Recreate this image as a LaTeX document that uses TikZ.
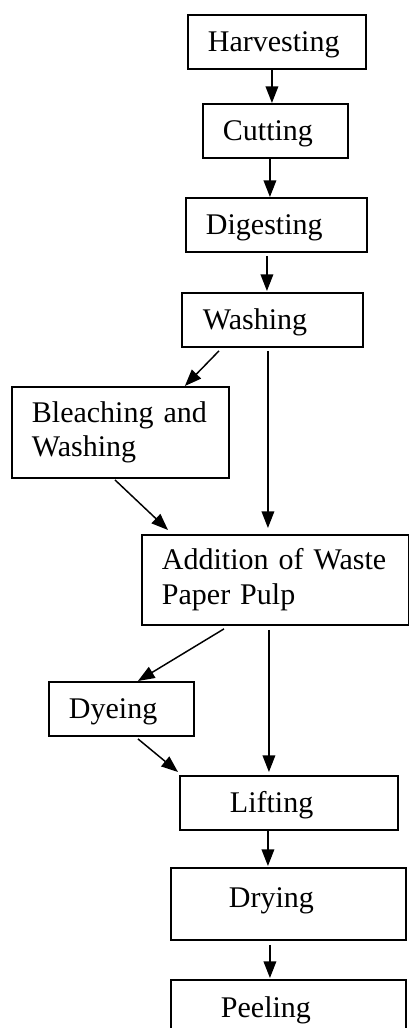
\documentclass[tikz,border=0pt]{standalone}
\usepackage{fontspec}
\setmainfont{Liberation Serif}
\usepackage{tikz}
\usetikzlibrary{arrows.meta, positioning, calc}

\newdimen\pxu
\pxu=0.75pt
\newcommand{\stagefont}{\fontsize{22.5}{26}\selectfont}

\tikzset{
  stage/.style={draw, line width=1.4pt, rectangle, anchor=north west, align=left,
    font=\stagefont, inner ysep=0pt},
  oneline/.style={text height=15pt, text depth=0pt},
  flow/.style={-{Triangle[length=12.5pt,width=9.5pt]}, line width=1.1pt}
}

\begin{document}
\begin{tikzpicture}[x=0.75pt, y=-0.75pt]
\useasboundingbox (0,0) rectangle (409,1028);

% Main chain (top)
\node[stage, oneline, minimum width=178\pxu, minimum height=54\pxu, inner xsep=20\pxu, text width=138\pxu] (harv) at (187,14) {Harvesting};
\node[stage, oneline, minimum width=145\pxu, minimum height=54\pxu, inner xsep=20\pxu, text width=105\pxu] (cut) at (202,103) {Cutting};
\node[stage, oneline, minimum width=181\pxu, minimum height=54\pxu, inner xsep=20\pxu, text width=141\pxu] (dig) at (185,197) {Digesting};
\node[stage, oneline, minimum width=181\pxu, minimum height=54\pxu, inner xsep=21\pxu, text width=139\pxu] (wash) at (181,292) {Washing};

% Side branch 1
\node[stage, minimum width=217\pxu, minimum height=91\pxu, inner xsep=20\pxu, text width=177\pxu] (bleach) at (11,386) {Bleaching and\\Washing};
\node[stage, minimum width=267\pxu, minimum height=90\pxu, inner xsep=20\pxu, text width=227\pxu] (addn) at (141,534) {Addition of Waste\\Paper Pulp};

% Side branch 2
\node[stage, oneline, minimum width=145\pxu, minimum height=54\pxu, inner xsep=20\pxu, text width=105\pxu] (dye) at (48,681) {Dyeing};
\node[stage, oneline, minimum width=218\pxu, minimum height=54\pxu, inner xsep=50\pxu, text width=118\pxu] (lift) at (179,775) {Lifting};

% Main chain (bottom)
\node[stage, text height=15pt, text depth=10pt, minimum width=235\pxu, minimum height=72\pxu, inner xsep=58\pxu, text width=119\pxu] (dry) at (170,867) {Drying};
\node[stage, text height=15pt, text depth=12pt, minimum width=235\pxu, minimum height=72\pxu, inner xsep=50\pxu, text width=135\pxu] (peel) at (170,979) {Peeling};

% Arrows
\draw[flow] ($(harv.south)+(-5,0)$) -- ($(cut.north)+(-3.5,0)$);
\draw[flow] ($(cut.south)+(-5.5,0)$) -- ($(dig.north)+(-6.5,0)$);
\draw[flow] ($(dig.south)+(-9.5,3)$) -- ($(wash.north)+(-5.5,-1)$);
\draw[flow] ($(wash.south west)+(38,3)$) -- ($(bleach.north east)+(-45,0)$);
\draw[flow] ($(wash.south)+(-4.5,3)$) -- ($(addn.north)+(-7.5,-6)$);
\draw[flow] ($(bleach.south)+(-5.5,1)$) -- ($(addn.north west)+(27,-4)$);
\draw[flow] ($(addn.south west)+(83,3)$) -- ($(dye.north)+(16.5,0)$);
\draw[flow] ($(addn.south)+(-6.5,4)$) -- ($(lift.north)+(-20,-3)$);
\draw[flow] ($(dye.south)+(16.5,2)$) -- ($(lift.north west)+(-1,-3)$);
\draw[flow] ($(lift.south)+(-21,0)$) -- ($(dry.north)+(-20.5,-1)$);
\draw[flow] ($(dry.south)+(-18.5,4)$) -- ($(peel.north)+(-18.5,-1)$);
\end{tikzpicture}
\end{document}
